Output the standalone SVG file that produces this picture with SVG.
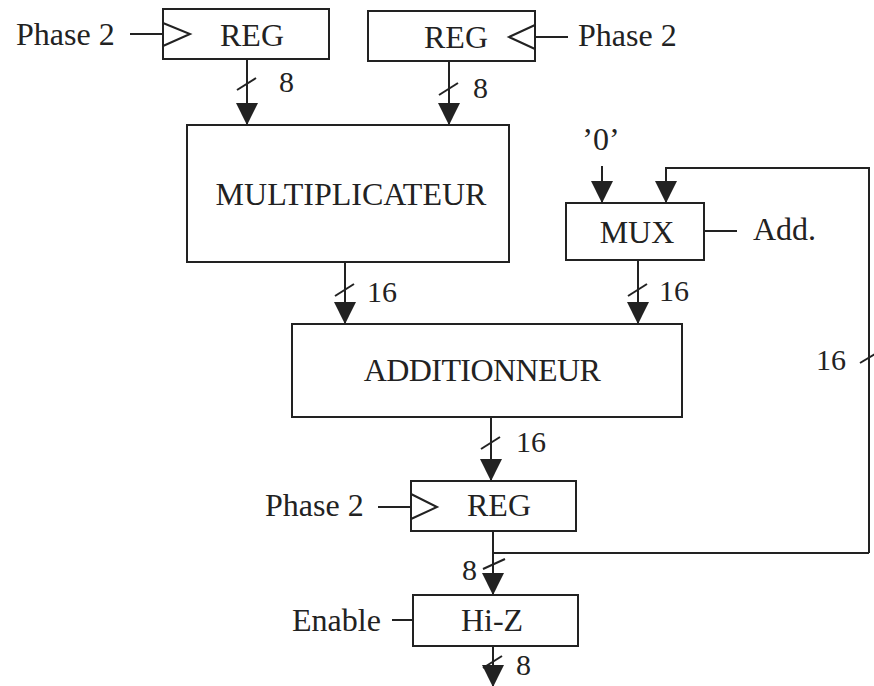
<svg xmlns="http://www.w3.org/2000/svg" width="874" height="686" viewBox="0 0 874 686">
<defs>
<style>
.box{fill:#fff;stroke:#222;stroke-width:2}
.w{fill:none;stroke:#222;stroke-width:2}
.t{font-family:"Liberation Serif","Times New Roman",serif;font-size:32px;fill:#222}
.c{text-anchor:middle}
.s{font-size:30px}
</style>
<marker id="ah" markerUnits="userSpaceOnUse" markerWidth="22" markerHeight="22" viewBox="0 0 20 20" refX="19" refY="10" orient="auto">
<path d="M0,0 L20,10 L0,20 Z" fill="#222"/>
</marker>
</defs>
<rect width="874" height="686" fill="#fff"/>

<g id="connectors">
<line class="w" x1="247" y1="59" x2="247" y2="124" marker-end="url(#ah)"/>
<line class="w" x1="237" y1="90" x2="256" y2="78"/>
<line class="w" x1="449" y1="61" x2="449" y2="124" marker-end="url(#ah)"/>
<line class="w" x1="439" y1="95" x2="458" y2="83"/>
<line class="w" x1="345" y1="262" x2="345" y2="323" marker-end="url(#ah)"/>
<line class="w" x1="335" y1="296" x2="354" y2="284"/>
<line class="w" x1="638" y1="260" x2="638" y2="323" marker-end="url(#ah)"/>
<line class="w" x1="628" y1="296" x2="647" y2="284"/>
<line class="w" x1="602" y1="166" x2="602" y2="202" marker-end="url(#ah)"/>
<polyline class="w" points="869,553 869,168 666,168 666,202" marker-end="url(#ah)"/>
<line class="w" x1="860" y1="363" x2="875" y2="354"/>
<line class="w" x1="491" y1="417" x2="491" y2="480" marker-end="url(#ah)"/>
<line class="w" x1="481" y1="449" x2="500" y2="437"/>
<line class="w" x1="493" y1="531" x2="493" y2="594" marker-end="url(#ah)"/>
<line class="w" x1="493" y1="553" x2="869" y2="553"/>
<line class="w" x1="483" y1="569" x2="505" y2="559"/>
<line class="w" x1="493" y1="646" x2="493" y2="686" marker-end="url(#ah)"/>
<line class="w" x1="483" y1="668" x2="502" y2="656"/>
<line class="w" x1="130" y1="34" x2="163" y2="34"/>
<line class="w" x1="535" y1="37" x2="568" y2="37"/>
<line class="w" x1="704" y1="231" x2="737" y2="231"/>
<line class="w" x1="378" y1="507" x2="411" y2="507"/>
<line class="w" x1="392" y1="620" x2="413" y2="620"/>
</g>

<g id="reg1">
<rect class="box" x="163" y="9" width="166" height="50"/>
<polyline class="w" points="163,23 190,34 163,46"/>
<text class="t c" x="252" y="46">REG</text>
</g>
<g id="reg2">
<rect class="box" x="368" y="11" width="167" height="50"/>
<polyline class="w" points="535,25 509,37 535,49"/>
<text class="t c" x="456" y="48">REG</text>
</g>
<g id="mult">
<rect class="box" x="187" y="125" width="322" height="137"/>
<text class="t c" x="351" y="205">MULTIPLICATEUR</text>
</g>
<g id="mux">
<rect class="box" x="566" y="203" width="138" height="57"/>
<text class="t c" x="637" y="243">MUX</text>
</g>
<g id="add">
<rect class="box" x="292" y="324" width="390" height="93"/>
<text class="t c" x="482" y="381" letter-spacing="-0.6">ADDITIONNEUR</text>
</g>
<g id="reg3">
<rect class="box" x="411" y="481" width="165" height="50"/>
<polyline class="w" points="411,494 437,507 411,519"/>
<text class="t c" x="499" y="516">REG</text>
</g>
<g id="hiz">
<rect class="box" x="413" y="595" width="165" height="51"/>
<text class="t c" x="492" y="631">Hi-Z</text>
</g>

<g id="labels">
<text class="t" x="16" y="45">Phase 2</text>
<text class="t" x="578" y="46">Phase 2</text>
<text class="t" x="265" y="516">Phase 2</text>
<text class="t" x="292" y="631">Enable</text>
<text class="t" x="753" y="240">Add.</text>
<text class="t c" x="601" y="150">’0’</text>
<text class="t s" x="279" y="92">8</text>
<text class="t s" x="473" y="98">8</text>
<text class="t s" x="367" y="302">16</text>
<text class="t s" x="659" y="301">16</text>
<text class="t s" x="516" y="452">16</text>
<text class="t s" x="816" y="370">16</text>
<text class="t s" x="462" y="580">8</text>
<text class="t s" x="516" y="675">8</text>
</g>
</svg>
